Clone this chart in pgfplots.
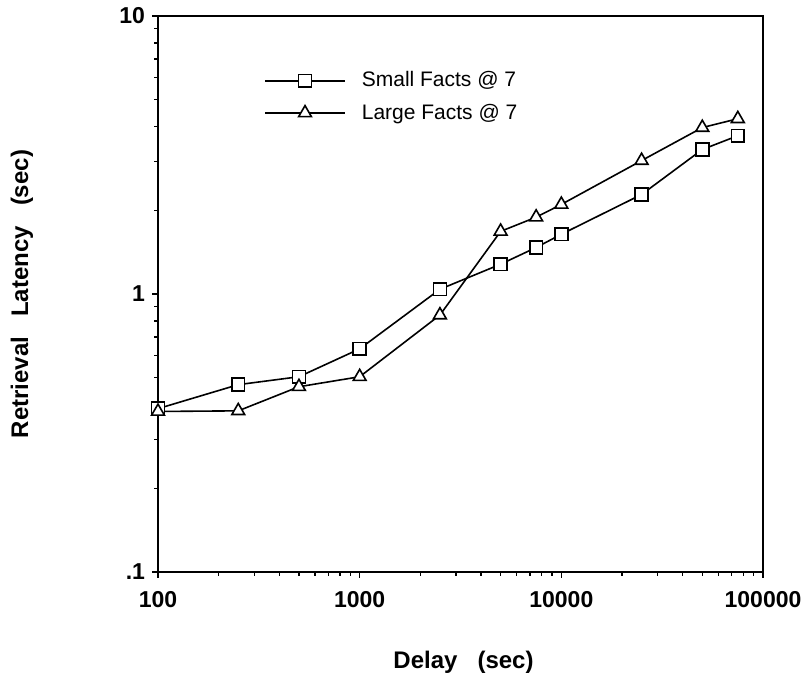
\documentclass[border=0pt]{standalone}
\usepackage{pgfplots}
\pgfplotsset{compat=1.18}
\usepackage{fontspec}
\setmainfont{Liberation Sans}
\begin{document}
\begin{tikzpicture}
\begin{axis}[
  name=ax,
  scale only axis, width=302.5pt, height=278pt,
  xmode=log, ymode=log,
  xmin=100, xmax=100000, ymin=0.1, ymax=10,
  axis line style={line width=1pt},
  xtick={100,1000,10000,100000}, xticklabels={\textbf{100},\textbf{1000},\textbf{10000},\textbf{100000}},
  ytick={0.1,1,10}, yticklabels={\textbf{.1},\textbf{1},\textbf{10}},
  tick align=outside, tick pos=left,
  major tick length=3pt, minor tick length=2pt,
  tick style={black, line width=0.7pt},
  tick label style={font=\fontsize{11.5}{13}\selectfont},
  xticklabel style={yshift=-3pt},
  xlabel={\textbf{Delay\ \ \ (sec)}},
  ylabel={\textbf{Retrieval\ \ \ Latency\ \ \ (sec)}},
  label style={font=\fontsize{12}{14}\selectfont},
  xlabel style={at={(axis description cs:0.505,-0.162)}, anchor=center},
  ylabel style={at={(axis description cs:-0.225,0.5)}, anchor=center},
  legend style={draw=none, fill=none, at={(axis description cs:0.165,0.915)}, anchor=north west,
    font=\fontsize{10.5}{12}\selectfont, row sep=3pt, legend cell align=left},
  legend image code/.code={\draw[mark repeat=2,mark phase=2,#1] plot coordinates {(0pt,0pt) (20pt,0pt) (40pt,0pt)};},
]
\addplot[black, line width=0.8pt, mark=square*, mark options={fill=white, line width=0.8pt}, mark size=3.2pt] coordinates {
(100,0.387) (250,0.472) (500,0.504) (1000,0.635) (2500,1.04) (5000,1.28) (7500,1.47) (10000,1.64) (25000,2.28) (50000,3.31) (75000,3.71)};
\addlegendentry{\hspace{6pt}Small Facts @ 7}
\addplot[black, line width=0.8pt, mark=triangle*, mark options={fill=white, line width=0.8pt}, mark size=3.7pt] coordinates {
(100,0.378) (250,0.38) (500,0.464) (1000,0.504) (2500,0.84) (5000,1.68) (7500,1.89) (10000,2.10) (25000,3.02) (50000,3.97) (75000,4.27)};
\addlegendentry{\hspace{6pt}Large Facts @ 7}
\end{axis}
\pgfresetboundingbox
\path (ax.south west) ++(-79pt,-54.5pt) rectangle (ax.north east) ++(21.5pt,8pt);
\end{tikzpicture}
\end{document}
